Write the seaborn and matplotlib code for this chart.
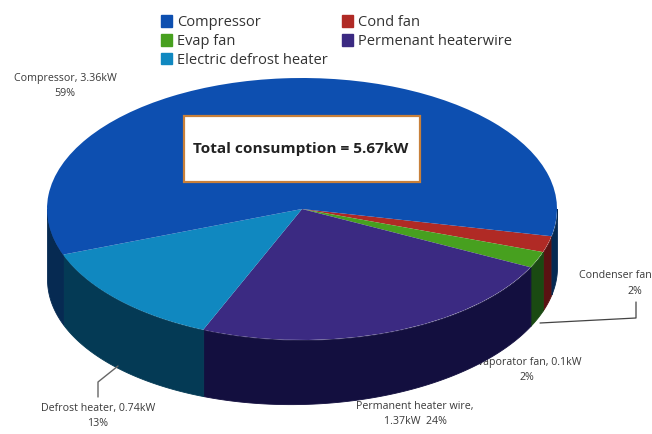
import numpy as np
import matplotlib
matplotlib.use('Agg')
import matplotlib.pyplot as plt
from matplotlib.patches import Patch
import seaborn as sns

# slices, clockwise from the right hand side
slice_names = ['Cond fan', 'Evap fan', 'Permenant heaterwire', 'Electric defrost heater', 'Compressor']
slice_pct = [2, 2, 24, 13, 59]
top_colors = ['#b02a25', '#47a01f', '#3b2a82', '#1088c0', '#0d4fb0']
wall_colors = ['#5a1212', '#1a4a12', '#130f3f', '#043a55', '#062a52']
legend_order = ['Compressor', 'Evap fan', 'Electric defrost heater', 'Cond fan', 'Permenant heaterwire']

W, H = 652, 434
cx, cy = 302, 209      # pie centre in pixels
rx, ry = 255, 131      # ellipse radii in pixels
start_angle = -12

sns.set_theme(style='white')
plt.rcParams['font.family'] = ['Open Sans', 'DejaVu Sans']

fig = plt.figure(figsize=(W / 100, H / 100), dpi=100)
ax = fig.add_axes([0, 0, 1, 1])

# top of the pie, squashed by letting the axes stretch it
ax.pie(slice_pct, colors=top_colors, startangle=start_angle, counterclock=False,
       radius=1, center=(0, 0), wedgeprops={'linewidth': 0, 'zorder': 3})
ax.set_aspect('auto')
ax.set_xlim(-cx / rx, (W - cx) / rx)
ax.set_ylim((cy - H) / ry, cy / ry)


def draw_wall(a0, a1, color):
    t = np.radians(np.linspace(a0, a1, 80))
    # wall is a bit deeper on the left, the original has some perspective
    depth = (64 - 6 * np.cos(t)) / ry
    # thin edge in the same colour hides the seams between pieces
    ax.fill_between(np.cos(t), np.sin(t), np.sin(t) - depth, facecolor=color,
                    edgecolor=color, lw=0.6, zorder=2)


# side wall, only the front half shows
edges = start_angle - np.cumsum([0] + slice_pct) * 3.6
for i in range(len(slice_pct)):
    draw_wall(min(edges[i], 0), max(edges[i + 1], -180), wall_colors[i])
# small bit of compressor wall right of the first slice
draw_wall(0, start_angle, wall_colors[4])

# overlay in pixel coordinates for the annotations
ov = fig.add_axes([0, 0, 1, 1], facecolor='none')
ov.set_xlim(0, W)
ov.set_ylim(H, 0)
ov.axis('off')

ov.add_patch(plt.Rectangle((184, 116), 236, 66, fc='white', ec='#c8803a', lw=1.6, zorder=0))
ov.text(301, 149, 'Total consumption = 5.67kW', ha='center', va='center', fontsize=11.1,
        fontweight='bold', color='#222222')

small = dict(ha='center', va='center', fontsize=7.7, color='#3a3a3a', linespacing=1.6)
ov.text(65, 86, 'Compressor, 3.36kW\n59%', **small)
ov.text(615, 276, 'Condenser fan', **small)
ov.text(635, 292, '2%', **small)
ov.text(415, 414, 'Permanent heater wire,\n1.37kW  24%', **small)
ov.text(98, 416, 'Defrost heater, 0.74kW\n13%', **small)
# evaporator label sits behind the wall in the original
ax.text(527, 370, 'Evaporator fan, 0.1kW\n2%', transform=ov.transData, zorder=1, **small)

# leader lines
ov.plot([540, 636, 636], [323, 318, 302], color='#444444', lw=0.9)
ov.plot([118, 98, 98], [366, 382, 397], color='#666666', lw=1.0)

color_of = dict(zip(slice_names, top_colors))
handles = [Patch(color=color_of[n], label=n) for n in legend_order]
ov.legend(handles=handles, ncol=2, loc='upper left', bbox_to_anchor=(161 / W, 1 - 15 / H),
          bbox_transform=fig.transFigure, frameon=False, fontsize=10.5, handlelength=0.75,
          handleheight=0.85, handletextpad=0.34, labelspacing=0.26, columnspacing=0.96,
          borderpad=0, borderaxespad=0, labelcolor='#333333')

fig.savefig('out.png', dpi=100)
